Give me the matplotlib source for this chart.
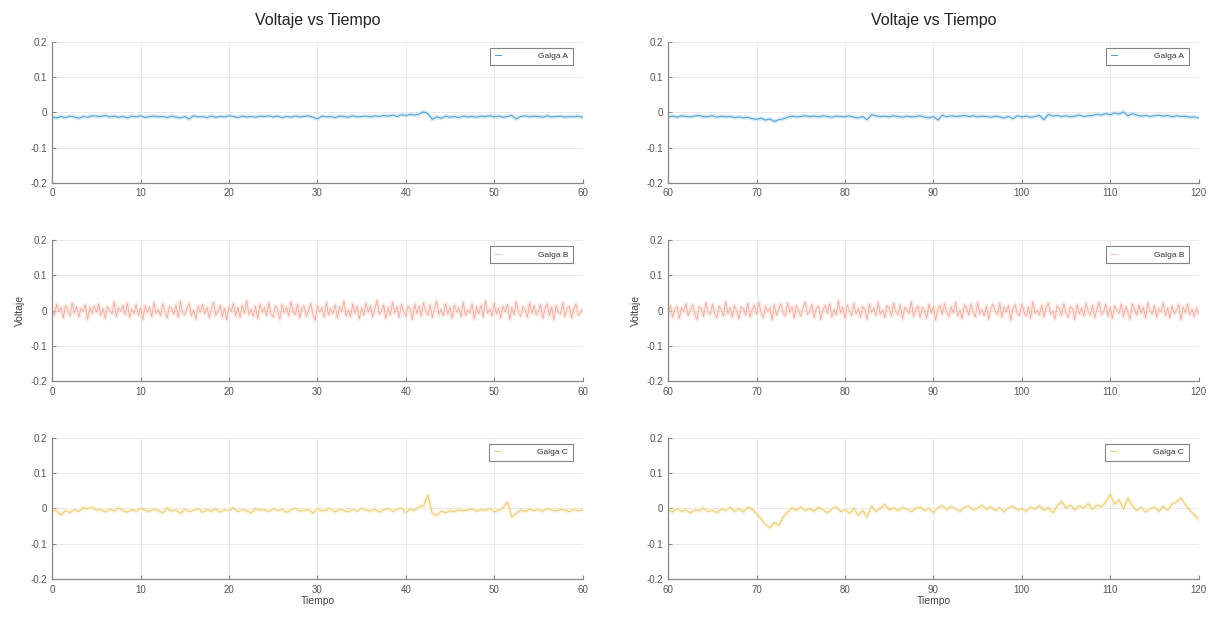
import numpy as np
import matplotlib
matplotlib.use('Agg')
import matplotlib.pyplot as plt

plt.rcParams['font.family'] = ['Liberation Sans', 'DejaVu Sans']

# readings in thousandths of a volt, first minute (0-60 s) and second minute (60-120 s)
# galga A and C sampled every 0.5 s, galga B every 0.25 s
galga_a_1 = [-14, -16, -12, -15, -11, -13, -17, -12, -14, -10, -11, -12, -9, -13, -11, -14, -12, -16, -11, -13, -10, -15, -12, -11,
             -13, -12, -15, -11, -14, -16, -12, -19, -10, -13, -12, -15, -11, -14, -12, -13, -10, -12, -15, -11, -13, -12, -14, -11,
             -12, -10, -13, -11, -15, -12, -14, -11, -13, -12, -10, -14, -19, -11, -13, -12, -15, -11, -12, -14, -10, -13, -12, -11,
             -13, -10, -12, -9, -11, -8, -12, -7, -9, -6, -8, -5, 1, -4, -20, -13, -17, -11, -14, -12, -15, -11, -13, -12,
             -14, -11, -12, -10, -13, -11, -14, -12, -9, -19, -12, -10, -13, -11, -12, -14, -10, -13, -12, -11, -14, -12, -13, -11,
             -14]
galga_b_1 = [5, -12, 18, -3, 9, -20, 14, 2, -15, 22, -6, 11, -18, 7, -1, 16, -24, 10, -8, 13,
             -4, 19, -14, 6, -22, 12, 0, -9, 25, -16, 8, -2, 15, -11, 21, -19, 4, -7, 17, -13,
             9, -25, 14, -5, 11, -17, 23, -8, 3, -14, 19, -1, -21, 12, 6, -10, 16, -18, 27, -6,
             -12, 8, 20, -15, 2, -23, 13, -4, 18, -9, 10, -20, 5, 24, -13, -1, 15, -17, 7, -26,
             11, -3, 21, -14, 9, -19, 16, -7, 28, -11, 4, -16, 12, -22, 19, -5, 8, -13, 22, -9,
             -18, 14, 3, -24, 17, -6, 10, -15, 25, -2, -11, 18, -20, 7, 13, -16, 1, 20, -10, -27,
             15, -4, 9, -19, 23, -12, 6, -8, 17, -21, 11, -3, 26, -14, 2, -17, 19, -7, 12, -23,
             8, -13, 21, -5, 14, -18, 4, 29, -10, -1, 16, -22, 9, -12, 24, -6, 11, -20, 18, -3,
             -15, 12, 5, -25, 19, -8, 13, -16, 22, -2, -12, 17, -19, 6, 27, -11, 3, -14, 20, -9,
             10, -21, 16, -4, 8, -17, 24, -13, 1, -6, 19, -23, 12, -9, 15, -18, 28, -7, 4, -15,
             21, -10, 7, -20, 13, -3, 18, -24, 9, -12, 26, -5, -16, 11, 3, -19, 22, -8, 14, -11,
             -2, 17, -22, 6, 20, -14, 10, -26, 15, -4, -9, 23, -17, 8, 12, -20, 5, 19, -13, -6,
             3]
galga_c_1 = [-2, -8, -18, -6, -12, -3, -9, 2, -1, 4, -5, -3, -10, -2, -7, 1, -6, -11, -3, -8, 0, -5, -9, -2,
             -6, -12, 1, -7, -4, -14, -2, -9, -5, 0, -11, -3, -8, -1, -10, -4, -6, 2, -9, -3, -7, -12, -1, -5,
             -3, -9, 0, -6, -2, -11, -4, 1, -8, -5, -3, -13, -1, -7, -4, 0, -10, -2, -6, -9, -3, -8, 1, -5,
             -7, -2, -10, -4, 0, -8, -3, 2, -12, -1, -6, 5, 8, 38, -15, -20, -8, -12, -6, -9, -3, -7, -4, -1,
             -8, -3, -6, 0, -10, -5, 2, 18, -24, -14, -4, -9, -1, -6, -3, -8, 0, -4, -7, -2, -5, -9, -3, -6,
             -4]

galga_a_2 = [-13, -11, -14, -10, -12, -13, -11, -9, -13, -12, -10, -14, -11, -13, -12, -15, -13, -16, -14, -18, -20, -17, -22, -19,
             -26, -21, -19, -14, -11, -13, -12, -10, -12, -11, -13, -10, -12, -14, -11, -12, -13, -10, -14, -16, -12, -21, -7, -10,
             -12, -11, -13, -10, -12, -14, -11, -13, -12, -10, -14, -16, -12, -22, -8, -13, -10, -12, -11, -9, -12, -10, -13, -11,
             -12, -14, -11, -13, -16, -12, -18, -10, -13, -11, -14, -12, -9, -21, -6, -11, -9, -12, -10, -13, -11, -8, -12, -10,
             -9, -6, -8, -4, -7, -2, -5, 1, -10, -4, -8, -11, -9, -12, -10, -8, -11, -9, -13, -10, -12, -11, -14, -13,
             -16]
galga_b_2 = [-7, 15, -19, 4, 12, -22, 8, -3, 20, -14, 1, 17, -9, -25, 11, 5, -16, 23, -4, -11,
             18, -6, -20, 13, 2, -15, 26, -8, 9, -18, 14, -1, -23, 10, 6, -12, 21, -17, 3, 16,
             -10, 24, -5, -19, 12, -2, 8, -26, 17, -13, 5, 19, -7, -15, 22, -4, 11, -21, 14, 0,
             -16, 9, 25, -11, -3, 18, -20, 7, 13, -24, 2, 15, -8, 20, -17, 4, -12, 27, -6, 10,
             -22, 16, -1, -14, 21, -9, 6, -18, 12, 3, -25, 19, -5, 8, -13, 23, -10, 1, -20, 14,
             7, -15, 22, -4, -11, 17, -23, 10, 2, -8, 26, -16, 5, 13, -19, 9, -2, -21, 18, -7,
             12, -26, 4, 15, -10, 20, -3, -17, 11, -6, 24, -14, 1, -22, 16, 8, -12, 19, -5, -18,
             23, -9, 3, -15, 13, -24, 7, 18, -2, -11, 21, -19, 10, -4, 14, -27, 6, 17, -8, -13,
             19, -3, -16, 11, -21, 25, -7, 2, -12, 16, -18, 9, 22, -10, -1, -23, 13, 5, -14, 20,
             -6, -19, 12, 4, -25, 17, -9, 8, -15, 21, -2, -12, 15, -20, 6, 24, -11, -4, 18, -16,
             9, -22, 14, 1, -8, 19, -17, 11, -5, -24, 20, 3, -13, 16, -7, 10, -21, 23, -1, -10,
             15, -18, 6, -3, 22, -14, 8, -20, 13, -9, 2, 17, -26, 11, -6, 19, -12, 4, -16, 7,
             -8]
galga_c_2 = [-2, -10, 0, -8, -4, -13, -3, -7, 1, -9, -5, -12, -2, -6, 3, -8, -1, -10, 4, -3, -15, -30, -45, -55,
             -40, -48, -25, -10, 2, -5, 4, -6, 0, -8, 3, -4, -12, -2, 5, -9, -3, -14, 1, -20, -6, -24, 6, -8,
             0, 12, -4, 2, -6, 3, -2, -9, 1, 4, -5, 0, -12, 2, 8, -3, 6, -1, -8, 3, 7, -4, 1, 9,
             -2, 5, -6, 3, -10, 2, 6, -4, 0, -8, 4, -2, 8, -5, 3, -12, 6, 20, 1, 10, -4, 8, 2, 14,
             -3, 10, 4, 18, 40, 12, 25, -2, 30, 8, -6, 3, -10, -2, 4, -8, 6, -5, 12, 18, 30, 10, -5, -18,
             -30]

names = ['Galga A', 'Galga B', 'Galga C']
colors = ['#4f9bd0', '#f0a294', '#eccb6c']
halos = ['#b3dcf4', '#fad7cf', '#f9ebc2']
steps = [0.5, 0.25, 0.5]
columns = [(0, [galga_a_1, galga_b_1, galga_c_1]),
           (60, [galga_a_2, galga_b_2, galga_c_2])]

fig = plt.figure(figsize=(12.15, 6.22), dpi=100)

lefts = [0.043, 0.550]
width = 0.4365
bottoms = [0.706, 0.387, 0.069]
height = 0.227

for c, (t0, series) in enumerate(columns):
    for r in range(3):
        ax = fig.add_axes([lefts[c], bottoms[r], width, height])
        v = np.array(series[r]) / 1000.0
        t = t0 + steps[r] * np.arange(len(v))
        # soft band under the trace, then the trace itself
        ax.plot(t, v, color=halos[r], lw=3.0, alpha=0.55, solid_joinstyle='round')
        ax.plot(t, v, color=colors[r], lw=0.7 if r != 1 else 0.5, label=names[r])

        ax.set_xlim(t0, t0 + 60)
        ax.set_ylim(-0.2, 0.2)
        ax.set_xticks(np.arange(t0, t0 + 61, 10))
        ax.set_yticks([-0.2, -0.1, 0, 0.1, 0.2])
        ax.set_yticklabels(['-0.2', '-0.1', '0', '0.1', '0.2'])
        ax.grid(True, color='#e6e6e6', lw=0.6)
        ax.set_axisbelow(True)
        for s in ['top', 'right']:
            ax.spines[s].set_visible(False)
        for s in ['left', 'bottom']:
            ax.spines[s].set_color('#888888')
            ax.spines[s].set_linewidth(0.9)
        ax.tick_params(direction='in', length=3, width=0.8, colors='#888888',
                       labelcolor='#555555', labelsize=7, pad=4)

        leg = ax.legend(loc='upper right', bbox_to_anchor=(1 - 10 / 530, 1 - 6 / 141),
                        borderaxespad=0, fontsize=6, frameon=True, fancybox=False,
                        handlelength=0.8, handletextpad=4.4, borderpad=0.55)
        leg.get_frame().set_edgecolor('#666666')
        leg.get_frame().set_linewidth(0.8)
        for txt in leg.get_texts():
            txt.set_color('#333333')

        if r == 0:
            ax.set_title('Voltaje vs Tiempo', fontsize=11.5, color='#222222', pad=12)
        if r == 1:
            ax.set_ylabel('Voltaje', fontsize=7.5, color='#444444', labelpad=4)
        if r == 2:
            ax.set_xlabel('Tiempo', fontsize=7.5, color='#444444', labelpad=1)

fig.savefig('out.png', dpi=100)
